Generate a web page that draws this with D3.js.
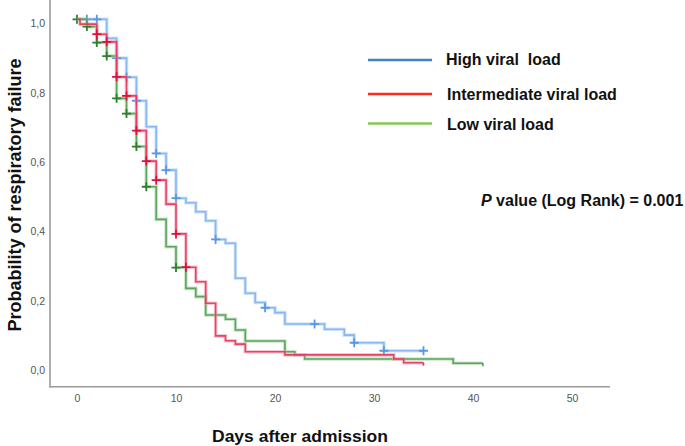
<!DOCTYPE html>
<html>
<head>
<meta charset="utf-8">
<script src="https://cdn.jsdelivr.net/npm/d3@7/dist/d3.min.js"></script>
<style>
  html, body { margin: 0; padding: 0; background: #fff; }
  svg { display: block; font-family: "Liberation Sans", Arial, sans-serif; }
</style>
</head>
<body>
<svg id="chart" width="685" height="446"></svg>
<script>
// ---------- data ----------
const categories = ["High viral  load", "Intermediate viral load", "Low viral load"];

const highTimes = [0, 3, 4, 5, 6, 7, 8, 9, 10, 11, 12, 13, 14, 15, 16, 17, 18, 19, 20, 21, 25, 27, 28, 31, 35];
const highSurv  = [1.0, 0.945, 0.888, 0.833, 0.765, 0.690, 0.613, 0.565, 0.484, 0.471, 0.445, 0.419, 0.365, 0.354, 0.253, 0.210, 0.183, 0.168, 0.154, 0.121, 0.106, 0.089, 0.067, 0.044, 0.044];
const highCensor = [1, 2, 4, 5, 6, 8, 9, 10, 14, 19, 24, 28, 31, 35];

const interTimes = [0, 0.3, 2, 3, 4, 5, 6, 7, 8, 9, 10, 11, 12, 13, 14, 15, 16, 17, 21, 32, 33, 35];
const interSurv  = [1.0, 0.986, 0.957, 0.935, 0.834, 0.779, 0.679, 0.591, 0.536, 0.467, 0.381, 0.285, 0.243, 0.181, 0.087, 0.073, 0.063, 0.041, 0.032, 0.020, 0.0095, 0.0095];
const interCensor = [2, 3, 4, 5, 6, 7, 8, 10, 11];
const interEnd = [35];

const lowTimes = [0, 1, 2, 3, 4, 5, 6, 7, 8, 9, 10, 11, 12, 13, 15, 16, 17, 21, 22, 23, 38, 41];
const lowSurv  = [1.0, 0.979, 0.933, 0.894, 0.772, 0.728, 0.633, 0.517, 0.423, 0.344, 0.284, 0.224, 0.200, 0.147, 0.135, 0.104, 0.072, 0.041, 0.032, 0.020, 0.008, 0.008];
const lowCensor = [0, 1, 2, 3, 4, 5, 6, 7, 10];
const lowEnd = [41];

const xTicks = [0, 10, 20, 30, 40, 50];
const yTicks = [0, 0.2, 0.4, 0.6, 0.8, 1.0];
const yTickLabels = ["0,0", "0,2", "0,4", "0,6", "0,8", "1,0"];

const xTitle = "Days after admission";
const yTitle = "Probability of respiratory failure";
const pText = ["P", " value (Log Rank) = 0.001"];

// ---------- layout ----------
const svg = d3.select("#chart");
const x = d3.scaleLinear().domain([0, 50]).range([77, 572]);
const y = d3.scaleLinear().domain([0, 1]).range([366, 19.3]);

// axes
const gx = svg.append("g").attr("transform", "translate(0,386.7)")
  .call(d3.axisBottom(x).tickValues(xTicks).tickSize(0).tickPadding(7.5).tickFormat(d3.format("d")));
gx.select(".domain").remove();
gx.selectAll("text").attr("fill", "#555").style("font-size", "10.5px").style("font-family", "Liberation Sans, Arial, sans-serif");

const gy = svg.append("g").attr("transform", "translate(50,0)")
  .call(d3.axisLeft(y).tickValues(yTicks).tickSize(0).tickPadding(5).tickFormat((d, i) => yTickLabels[i]));
gy.select(".domain").remove();
gy.selectAll("text").attr("fill", "#555").attr("y", 4).style("font-size", "10.5px").style("font-family", "Liberation Sans, Arial, sans-serif");

// axis lines
svg.append("line").attr("x1", 50).attr("x2", 50).attr("y1", 0).attr("y2", 387.5)
  .attr("stroke", "#9a9a9a").attr("stroke-width", 1.6);
svg.append("line").attr("x1", 49.2).attr("x2", 610).attr("y1", 386.7).attr("y2", 386.7)
  .attr("stroke", "#9a9a9a").attr("stroke-width", 1.6);

// ---------- curves ----------
function stepValue(times, surv, t) {
  let v = surv[0];
  for (let i = 0; i < times.length; i++) { if (times[i] <= t) v = surv[i]; }
  return v;
}

const series = [
  { times: highTimes, surv: highSurv, censor: highCensor, end: [], halo: "#a9cdf7", line: "#7fb1ef", mark: "#5a97e3" },
  { times: lowTimes, surv: lowSurv, censor: lowCensor, end: lowEnd, halo: "#9fd09f", line: "#4f9e4f", mark: "#2f7f2f" },
  { times: interTimes, surv: interSurv, censor: interCensor, end: interEnd, halo: "#f29aae", line: "#e5335a", mark: "#e0103c" }
];

const line = d3.line().x(d => x(d[0])).y(d => y(d[1])).curve(d3.curveStepAfter);

series.forEach(s => {
  const pts = s.times.map((t, i) => [t, s.surv[i]]);
  svg.append("path").attr("d", line(pts)).attr("fill", "none")
    .attr("stroke", s.halo).attr("stroke-width", 3.6).attr("stroke-opacity", 0.55);
  svg.append("path").attr("d", line(pts)).attr("fill", "none")
    .attr("stroke", s.line).attr("stroke-width", 1.6).attr("stroke-opacity", 0.9);
  const g = svg.append("g");
  s.censor.forEach(t => {
    const cx = x(t), cy = y(stepValue(s.times, s.surv, t));
    g.append("path").attr("d", `M${cx - 4.5},${cy}H${cx + 4.5}M${cx},${cy - 4.5}V${cy + 4.5}`)
      .attr("stroke", s.mark).attr("stroke-width", 1.8).attr("fill", "none");
  });
  s.end.forEach(t => {
    const cx = x(t), cy = y(stepValue(s.times, s.surv, t));
    g.append("path").attr("d", `M${cx},${cy}V${cy + 3}`)
      .attr("stroke", s.line).attr("stroke-width", 1.6).attr("fill", "none");
  });
});

// ---------- legend ----------
const legendColors = ["#3f7fd0", "#ff2a1f", "#80c850"];
const legendY = [60, 94, 123.5];
const legendTextX = [446, 447, 447];
categories.forEach((c, i) => {
  svg.append("line").attr("x1", 368).attr("x2", 432).attr("y1", legendY[i]).attr("y2", legendY[i])
    .attr("stroke", legendColors[i]).attr("stroke-width", 2.4);
  svg.append("text").attr("x", legendTextX[i]).attr("y", legendY[i] + 4.5 + (i === 0 ? 0 : 1.5))
    .style("white-space", "pre").attr("xml:space", "preserve")
    .style("font-size", "16px").style("font-weight", "bold").attr("fill", "#111")
    .text(c);
});

// p-value
const pt = svg.append("text").attr("x", 481).attr("y", 206)
  .style("font-size", "16px").style("font-weight", "bold").attr("fill", "#111");
pt.append("tspan").style("font-style", "italic").text(pText[0]);
pt.append("tspan").style("white-space", "pre").attr("xml:space", "preserve").text(pText[1]);

// axis titles
svg.append("text").attr("x", 300).attr("y", 441.5).attr("text-anchor", "middle")
  .style("font-size", "16.5px").style("font-weight", "bold").attr("fill", "#111")
  .attr("textLength", 176).attr("lengthAdjust", "spacingAndGlyphs")
  .text(xTitle);
svg.append("text").attr("transform", "translate(21,195) rotate(-90)").attr("text-anchor", "middle")
  .style("font-size", "18px").style("font-weight", "bold").attr("fill", "#111")
  .attr("textLength", 273).attr("lengthAdjust", "spacingAndGlyphs")
  .text(yTitle);
</script>
</body>
</html>
